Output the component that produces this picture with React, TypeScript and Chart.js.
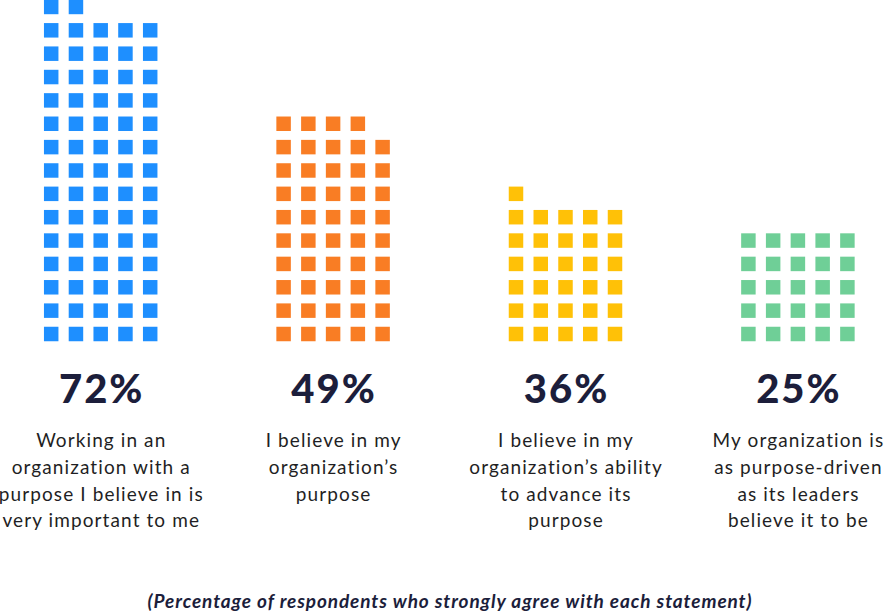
import React, { useEffect, useRef } from "react";
import { Chart, registerables } from "chart.js";

Chart.register(...registerables);

// ---- Data ----
const statements: string[][] = [
  ["Working in an", "organization with a", "purpose I believe in is", "very important to me"],
  ["I believe in my", "organization\u2019s", "purpose"],
  ["I believe in my", "organization\u2019s ability", "to advance its", "purpose"],
  ["My organization is", "as purpose-driven", "as its leaders", "believe it to be"],
];
const percentages: number[] = [72, 49, 36, 25];
const squareCounts: number[] = [72, 49, 31, 25];
const colors: string[] = ["#1E8FFF", "#F97D24", "#FFC107", "#6FCF97"];
const footnote = "(Percentage of respondents who strongly agree with each statement)";

// ---- Layout constants ----
const W = 885;
const CANVAS_H = 350;
const COL_PX = 24.75; // horizontal px per square column
const ROW_PX = 23.36; // vertical px per square row
const GROUP0_CENTER = 100.7;
const GROUP_STRIDE_PX = 232.4;
const BOTTOM_ROW_PX = 334;
const PER_ROW = 5;

const groupStride = GROUP_STRIDE_PX / COL_PX;
const xMin = -GROUP0_CENTER / COL_PX;
const xMax = xMin + W / COL_PX;
const yMax = BOTTOM_ROW_PX / ROW_PX;
const yMin = yMax - CANVAS_H / ROW_PX;

const FONT = "Lato, 'Noto Sans', sans-serif";

export default function App() {
  const ref = useRef<HTMLCanvasElement | null>(null);

  useEffect(() => {
    if (!ref.current) return;
    const datasets = squareCounts.map((count, g) => {
      const pts: { x: number; y: number }[] = [];
      for (let k = 0; k < count; k++) {
        pts.push({ x: g * groupStride + (k % PER_ROW) - 2, y: Math.floor(k / PER_ROW) });
      }
      return {
        label: `${percentages[g]}%`,
        data: pts,
        pointStyle: "rect" as const,
        pointRadius: 10.25,
        pointHoverRadius: 10.25,
        pointBorderWidth: 0,
        borderWidth: 0,
        backgroundColor: colors[g],
        borderColor: colors[g],
        clip: false as any,
      };
    });
    const chart = new Chart(ref.current, {
      type: "scatter",
      data: { datasets },
      options: {
        animation: false,
        responsive: false,
        events: [],
        layout: { padding: 0, autoPadding: false },
        plugins: { legend: { display: false }, tooltip: { enabled: false } },
        scales: {
          x: { type: "linear", min: xMin, max: xMax, display: false },
          y: { type: "linear", min: yMin, max: yMax, display: false },
        },
      },
    });
    return () => chart.destroy();
  }, []);

  const centers = percentages.map((_, g) => GROUP0_CENTER + g * GROUP_STRIDE_PX);

  return (
    <div
      style={{
        position: "absolute",
        left: 0,
        top: 0,
        width: W,
        height: 612,
        background: "#ffffff",
        overflow: "hidden",
        fontFamily: FONT,
      }}
    >
      <canvas ref={ref} width={W} height={CANVAS_H} style={{ position: "absolute", left: 0, top: 0, width: W, height: CANVAS_H }} />
      {percentages.map((p, g) => (
        <div
          key={"p" + g}
          style={{
            position: "absolute",
            left: centers[g] - 100,
            width: 200,
            top: 367.5,
            textAlign: "center",
            fontSize: 40,
            lineHeight: "40px",
            fontWeight: 900,
            letterSpacing: 2,
            paddingLeft: 2,
            boxSizing: "border-box",
            color: "#1C1E3B",
            whiteSpace: "nowrap",
          }}
        >
          {p}%
        </div>
      ))}
      {statements.map((lines, g) => (
        <div
          key={"s" + g}
          style={{
            position: "absolute",
            left: centers[g] - 130,
            width: 260,
            top: 427.3,
            textAlign: "center",
            fontSize: 19,
            lineHeight: "26.7px",
            letterSpacing: 1.1,
            paddingLeft: 1.1,
            boxSizing: "border-box",
            color: "#1f1f24",
            whiteSpace: "nowrap",
          }}
        >
          {lines.map((l, i) => (
            <div key={i}>{l}</div>
          ))}
        </div>
      ))}
      <div
        style={{
          position: "absolute",
          left: 0,
          width: 900,
          top: 590.6,
          textAlign: "center",
          fontSize: 19,
          lineHeight: "20px",
          fontWeight: 700,
          fontStyle: "italic",
          letterSpacing: 0.9,
          color: "#1C1E3B",
          whiteSpace: "nowrap",
        }}
      >
        {footnote}
      </div>
    </div>
  );
}
